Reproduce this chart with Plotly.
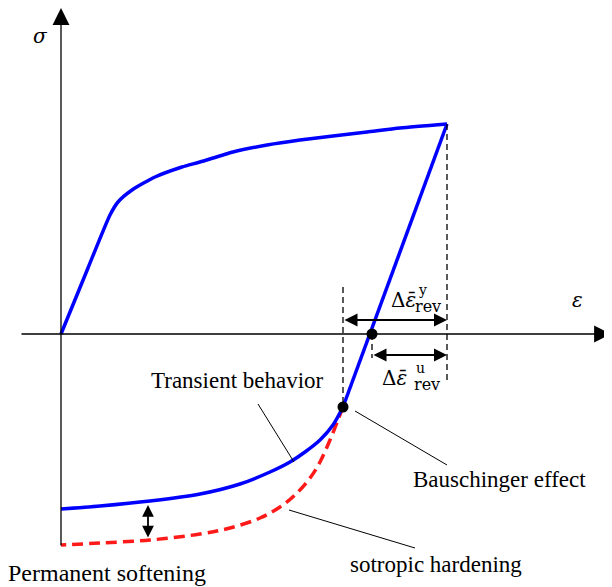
import plotly.graph_objects as go

# Schematic data (strain, stress) in arbitrary units
load_eps = [0, 27, 49, 57, 71, 94, 121, 139, 172, 206, 239, 272, 306, 339, 386]
load_sig = [0, 66, 119, 132, 144, 157, 167, 172, 182, 189, 194, 198, 202, 206, 210]

unload_eps = [386, 282]
unload_sig = [210, -73]

rev_eps = [282, 272, 259, 244, 229, 209, 179, 139, 89, 39, 0]
rev_sig = [-73, -91, -106, -118, -128, -138, -150, -160, -167, -172, -175]

iso_eps = [282, 277, 269, 259, 249, 234, 219, 199, 169, 139, 89, 39, 0]
iso_sig = [-73, -86, -106, -128, -144, -161, -173, -184, -194, -200, -206, -209, -211]

zero_cross = 311      # strain where unloading crosses sigma = 0
yield_rev = (282, -73)
peak = (386, 210)

BLUE = "#0000ff"
RED = "#ff1a1a"
SERIF = "Liberation Serif"
MATH = "DejaVu Serif"

fig = go.Figure()

fig.add_trace(go.Scatter(x=iso_eps, y=iso_sig, mode="lines", line=dict(color=RED, width=3.5, dash="11px,6px", shape="spline"), hoverinfo="skip"))
fig.add_trace(go.Scatter(x=load_eps, y=load_sig, mode="lines", line=dict(color=BLUE, width=3.5, shape="spline", smoothing=0.6), hoverinfo="skip"))
fig.add_trace(go.Scatter(x=unload_eps, y=unload_sig, mode="lines", line=dict(color=BLUE, width=3.5), hoverinfo="skip"))
fig.add_trace(go.Scatter(x=rev_eps, y=rev_sig, mode="lines", line=dict(color=BLUE, width=3.5, shape="spline", smoothing=0.8), hoverinfo="skip"))
fig.add_trace(go.Scatter(x=[yield_rev[0], zero_cross], y=[yield_rev[1], 0], mode="markers", marker=dict(color="black", size=11), hoverinfo="skip"))

# dashed guide lines
dash = dict(color="black", width=1.3, dash="6px,4px")
fig.add_shape(type="line", x0=peak[0], x1=peak[0], y0=peak[1], y1=-46, line=dash)
fig.add_shape(type="line", x0=yield_rev[0], x1=yield_rev[0], y0=47, y1=yield_rev[1], line=dash)
fig.add_shape(type="line", x0=zero_cross, x1=zero_cross, y0=0, y1=-24, line=dash)

# axes
fig.add_annotation(x=550, y=0, ax=-41, ay=0, xref="x", yref="y", axref="x", ayref="y", text="", showarrow=True, arrowhead=2, arrowsize=2.6, arrowwidth=1.3, arrowcolor="black")
fig.add_annotation(x=0, y=326, ax=0, ay=-213, xref="x", yref="y", axref="x", ayref="y", text="", showarrow=True, arrowhead=2, arrowsize=2.6, arrowwidth=1.3, arrowcolor="black")

# double arrows
fig.add_annotation(x=peak[0], y=14, ax=yield_rev[0], ay=14, xref="x", yref="y", axref="x", ayref="y", text="", showarrow=True, arrowhead=2, startarrowhead=2, arrowside="end+start", arrowsize=1.3, startarrowsize=1.3, arrowwidth=2, arrowcolor="black")
fig.add_annotation(x=peak[0], y=-21, ax=zero_cross, ay=-21, xref="x", yref="y", axref="x", ayref="y", text="", showarrow=True, arrowhead=2, startarrowhead=2, arrowside="end+start", arrowsize=1.3, startarrowsize=1.3, arrowwidth=2, arrowcolor="black")
fig.add_annotation(x=87, y=-171, ax=87, ay=-205, xref="x", yref="y", axref="x", ayref="y", text="", showarrow=True, arrowhead=2, startarrowhead=2, arrowside="end+start", arrowsize=1.3, startarrowsize=1.3, arrowwidth=1.8, arrowcolor="black")

# leader lines
lead = dict(color="black", width=1)
fig.add_shape(type="line", x0=197, y0=-70, x1=233, y1=-128, line=lead)
fig.add_shape(type="line", x0=294, y0=-77, x1=386, y1=-131, line=lead)
fig.add_shape(type="line", x0=228, y0=-176, x1=354, y1=-214, line=lead)

def txt(x, y, s, size=23, font=SERIF, xanchor="center"):
    fig.add_annotation(x=x, y=y, xref="x", yref="y", text=s, showarrow=False, xanchor=xanchor, yanchor="middle", font=dict(family=font, size=size, color="black"))

txt(-21, 298, "<i>σ</i>", size=20, font=MATH)
txt(516, 34, "<i>ε</i>", size=20, font=MATH)
txt(176, -46, "Transient behavior")
txt(438, -145, "Bauschinger effect")
txt(375, -230, "sotropic hardening")
txt(46, -239, "Permanent softening", size=24)

# Delta epsilon labels
txt(342, 34, "Δ<i>ε̄</i>", size=20, font=MATH)
txt(361, 44, "y", size=14, font=MATH)
txt(367, 28, "rev", size=16, font=MATH)
txt(333, -44, "Δ<i>ε̄</i>", size=20, font=MATH)
txt(359, -34, "u", size=14, font=MATH)
txt(366, -50, "rev", size=16, font=MATH)

# the page body has an 8px default margin, so the figure is 8px smaller
fig.update_layout(
    width=604, height=579, margin=dict(l=0, r=0, t=0, b=0),
    paper_bgcolor="white", plot_bgcolor="white", showlegend=False,
    xaxis=dict(range=[-53, 551], visible=False, fixedrange=True),
    yaxis=dict(range=[-253, 326], visible=False, fixedrange=True),
)
fig.write_html("out.html")
